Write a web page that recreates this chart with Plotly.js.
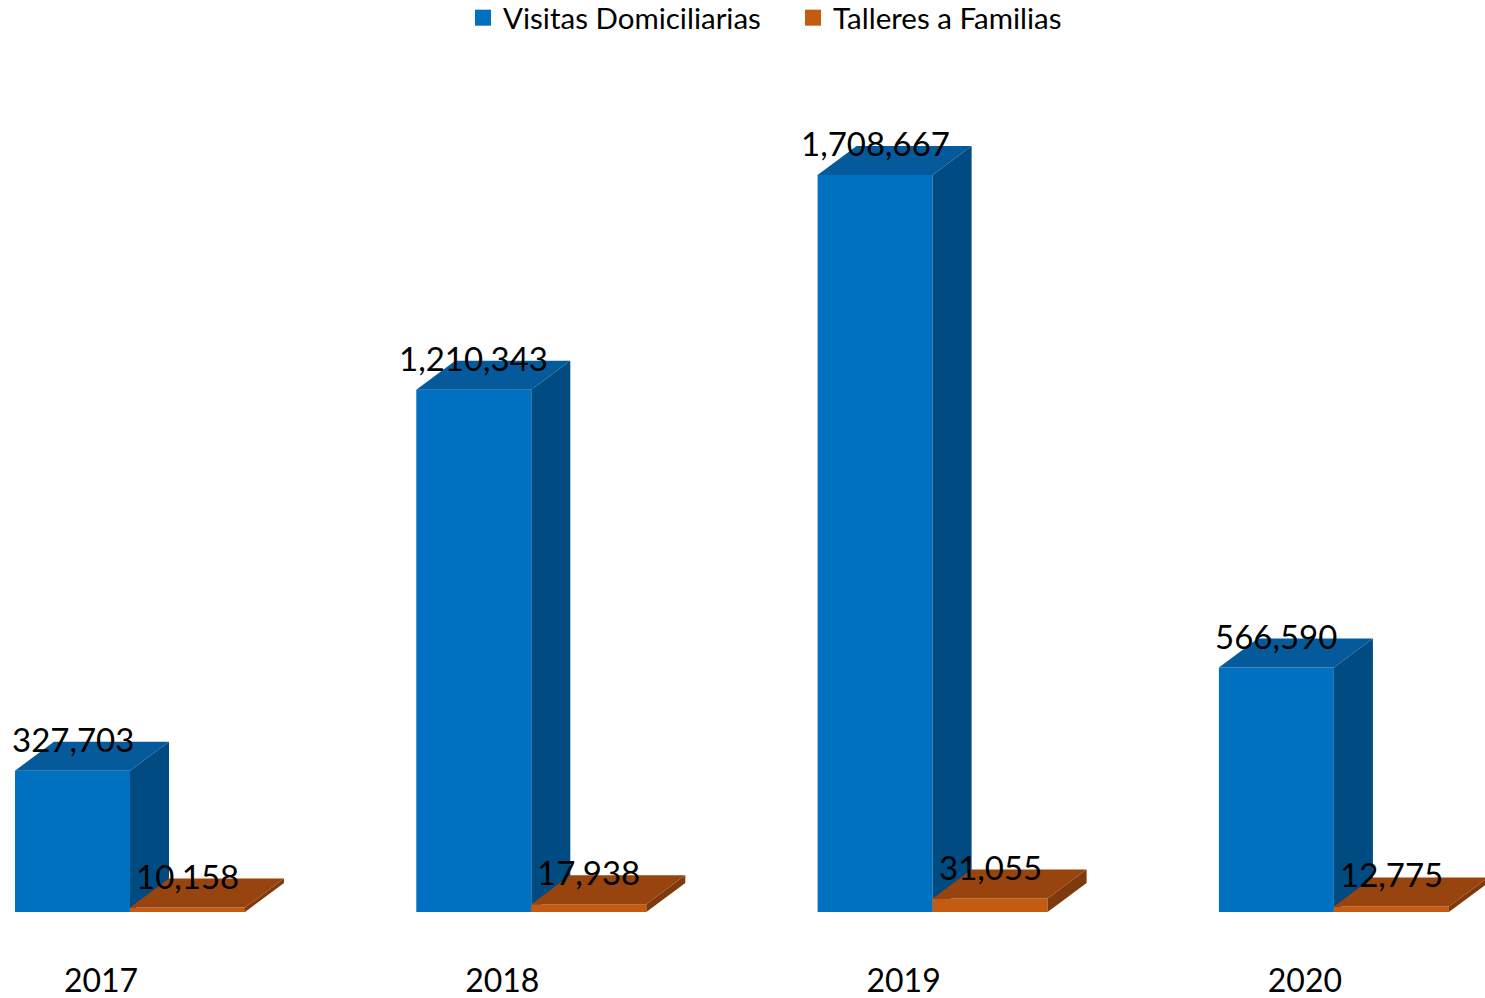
<!DOCTYPE html>
<html>
<head>
<meta charset="utf-8">
<script src="https://cdn.plot.ly/plotly-3.0.1.min.js"></script>
<style>html,body{margin:0;padding:0;background:#fff;}#chart{width:1485px;height:998px;}</style>
</head>
<body>
<div id="chart"></div>
<script>
// ---- data ----
const years = ['2017', '2018', '2019', '2020'];
const seriesNames = ['Visitas Domiciliarias', 'Talleres a Familias'];
const visitas = [327703, 1210343, 1708667, 566590];
const talleres = [10158, 17938, 31055, 12775];

// ---- geometry / style ----
const W = 1485, H = 998;
const M = {l: 0, r: 0, t: 60, b: 86, autoexpand: false};
const plotW = W - M.l - M.r, plotH = H - M.t - M.b;
const catPx = 401.3;           // pixels per category
const firstCenterPx = 130;     // pixel of first group center
const xRange = [-firstCenterPx / catPx, (plotW - firstCenterPx) / catPx];
const yMax = 1975000;
const pxPerY = plotH / yMax;
const barW = 115 / catPx;
const depthX = 39 / catPx;
const depthY = 29 / pxPerY;

const styles = [
  {front: '#0070C0', top: '#055A9C', side: '#004B82'},
  {front: '#C55A11', top: '#97440E', side: '#7E390C'}
];
const seriesVals = [visitas, talleres];
const fontFam = 'Lato, "Open Sans", sans-serif';

function faces(vals, offset) {
  const f = {fx: [], fy: [], tx: [], ty: [], sx: [], sy: []};
  vals.forEach((v, i) => {
    const xl = i + offset, xr = xl + barW;
    f.fx.push(xl, xr, xr, xl, xl, null);
    f.fy.push(0, 0, v, v, 0, null);
    f.tx.push(xl, xr, xr + depthX, xl + depthX, xl, null);
    f.ty.push(v, v, v + depthY, v + depthY, v, null);
    f.sx.push(xr, xr + depthX, xr + depthX, xr, xr, null);
    f.sy.push(0, depthY, v + depthY, v, 0, null);
  });
  return f;
}

const traces = [];
const annotations = [];
seriesVals.forEach((vals, s) => {
  const offset = s === 0 ? -barW : 0;
  const f = faces(vals, offset);
  const st = styles[s];
  [['fx', 'fy', st.front], ['sx', 'sy', st.side], ['tx', 'ty', st.top]].forEach(([kx, ky, col]) => {
    traces.push({
      type: 'scatter', mode: 'lines', x: f[kx], y: f[ky],
      fill: 'toself', fillcolor: col, line: {width: 0, color: col},
      hoverinfo: 'skip', showlegend: false
    });
  });
  vals.forEach((v, i) => {
    annotations.push({
      x: i + offset + barW / 2, y: v + depthY, xref: 'x', yref: 'y',
      text: v.toLocaleString('en-US'), showarrow: false,
      xanchor: 'center', yanchor: 'middle', yshift: 3,
      font: {family: fontFam, size: 33, color: '#000'}
    });
  });
});
// legend entries
seriesNames.forEach((name, s) => {
  traces.push({
    type: 'scatter', mode: 'markers', x: [null], y: [null], name: name,
    marker: {symbol: 'square', size: 16, color: styles[s].front},
    hoverinfo: 'skip', showlegend: true
  });
});

const layout = {
  width: W, height: H,
  margin: M,
  paper_bgcolor: '#fff', plot_bgcolor: '#fff',
  showlegend: true,
  legend: {
    orientation: 'h', x: 463 / W, xanchor: 'left', y: 1 + (M.t + 8) / plotH, yanchor: 'top',
    font: {family: fontFam, size: 29.5, color: '#000'},
    entrywidth: 285, entrywidthmode: 'pixels', itemsizing: 'trace', bgcolor: 'rgba(0,0,0,0)'
  },
  xaxis: {
    range: xRange, showgrid: false, zeroline: false, showline: false,
    tickmode: 'array', tickvals: years.map((_, i) => i), ticktext: years,
    ticks: '', ticklabelshift: -29, ticklabelstandoff: 47,
    tickfont: {family: fontFam, size: 32, color: '#000'}, fixedrange: true
  },
  yaxis: {
    range: [0, yMax], showgrid: false, zeroline: false, showline: false,
    showticklabels: false, ticks: '', fixedrange: true
  },
  annotations: annotations
};

Plotly.newPlot('chart', traces, layout, {displayModeBar: false, staticPlot: true});
</script>
</body>
</html>
